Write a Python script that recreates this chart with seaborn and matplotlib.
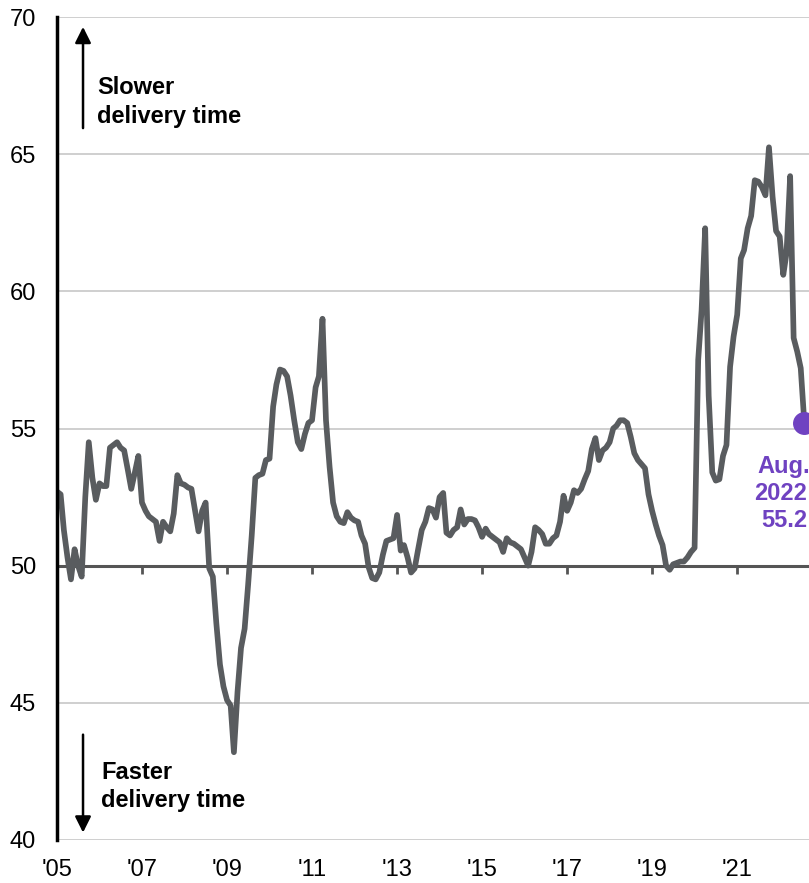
import matplotlib
matplotlib.use("Agg")
import matplotlib.pyplot as plt
import seaborn as sns
import pandas as pd

# ---- data (monthly, Jan 2005 - Aug 2022) ----
v2005 = [52.7, 52.6, 51.3, 50.3, 49.5, 50.6, 50.0, 49.6, 52.5, 54.5, 53.2, 52.4]
v2006 = [53.0, 52.9, 52.9, 54.3, 54.4, 54.5, 54.3, 54.2, 53.5, 52.8, 53.4, 54.0]
v2007 = [52.3, 52.0, 51.8, 51.7, 51.6, 50.9, 51.6, 51.4, 51.25, 51.9, 53.3, 53.0]
v2008 = [52.95, 52.85, 52.8, 52.0, 51.25, 52.0, 52.3, 49.9, 49.6, 47.9, 46.4, 45.6]
v2009 = [45.1, 44.9, 43.2, 45.4, 47.0, 47.7, 49.3, 51.1, 53.2, 53.3, 53.35, 53.85]
v2010 = [53.9, 55.8, 56.6, 57.15, 57.1, 56.9, 56.2, 55.3, 54.5, 54.25, 54.8, 55.2]
v2011 = [55.3, 56.5, 56.9, 59.0, 55.3, 53.6, 52.3, 51.8, 51.6, 51.55, 51.95, 51.75]
v2012 = [51.65, 51.6, 51.1, 50.8, 49.95, 49.55, 49.5, 49.75, 50.4, 50.9, 50.95, 51.0]
v2013 = [51.85, 50.55, 50.75, 50.3, 49.75, 49.9, 50.6, 51.3, 51.6, 52.1, 52.05, 51.75]
v2014 = [52.5, 52.65, 51.2, 51.1, 51.3, 51.4, 52.05, 51.5, 51.7, 51.7, 51.65, 51.4]
v2015 = [51.05, 51.35, 51.15, 51.05, 50.95, 50.85, 50.5, 51.0, 50.85, 50.8, 50.7, 50.6]
v2016 = [50.3, 50.0, 50.5, 51.4, 51.3, 51.15, 50.8, 50.8, 51.0, 51.1, 51.6, 52.55]
v2017 = [52.0, 52.3, 52.75, 52.65, 52.8, 53.15, 53.45, 54.25, 54.65, 53.85, 54.2, 54.3]
v2018 = [54.5, 55.0, 55.1, 55.3, 55.3, 55.2, 54.7, 54.1, 53.85, 53.7, 53.55, 52.6]
v2019 = [52.0, 51.5, 51.1, 50.75, 50.0, 49.85, 50.05, 50.1, 50.15, 50.15, 50.3, 50.5]
v2020 = [50.65, 57.5, 59.3, 62.3, 56.2, 53.4, 53.1, 53.15, 54.0, 54.4, 57.25, 58.35]
v2021 = [59.15, 61.2, 61.5, 62.3, 62.75, 64.05, 64.0, 63.8, 63.5, 65.25, 63.45, 62.2]
v2022 = [62.0, 60.6, 61.4, 64.2, 58.3, 57.8, 57.2, 55.2]

values = (v2005 + v2006 + v2007 + v2008 + v2009 + v2010 + v2011 + v2012 + v2013
          + v2014 + v2015 + v2016 + v2017 + v2018 + v2019 + v2020 + v2021 + v2022)
dates = pd.date_range("2005-01-01", periods=len(values), freq="MS")
df = pd.DataFrame({"date": dates, "value": values})

tick_years = [2005, 2007, 2009, 2011, 2013, 2015, 2017, 2019, 2021]
tick_labels = ["'05", "'07", "'09", "'11", "'13", "'15", "'17", "'19", "'21"]
y_ticks = [40, 45, 50, 55, 60, 65, 70]
last_label = "Aug.\n2022:\n55.2"

LINE = "#595c5f"
PURPLE = "#6f42c1"

sns.set_style("white")
plt.rcParams["font.family"] = ["Liberation Sans", "DejaVu Sans"]
plt.rcParams["text.color"] = "black"

fig = plt.figure(figsize=(8.09, 8.83), dpi=100)
ax = fig.add_axes([57 / 809, 43 / 883, 1 - 57 / 809, 823 / 883])

# grid & reference line
ax.set_yticks(y_ticks)
ax.yaxis.grid(True, color="#cccccc", lw=1.3, zorder=0)
ax.set_axisbelow(True)
ax.axhline(50, color="#555555", lw=2.2, zorder=1)
tick_dates = [pd.Timestamp(f"{y}-01-01") for y in tick_years]
ax.plot(tick_dates[1:], [50] * (len(tick_dates) - 1), ls="none", marker=3,
        ms=6, mew=2, color="#555555", zorder=1)

sns.lineplot(data=df, x="date", y="value", ax=ax, color=LINE, lw=4.1,
             zorder=3, solid_joinstyle="round", solid_capstyle="round")

# last point
ax.plot([df["date"].iloc[-1]], [df["value"].iloc[-1]], marker="o", ms=15.5,
        color=PURPLE, zorder=4, clip_on=False)
ax.text(0.967, 0.468, last_label, transform=ax.transAxes, ha="center", va="top",
        color=PURPLE, fontsize=17, fontweight="bold", linespacing=1.22)

ax.set_ylim(40, 70)
ax.set_xlim(pd.Timestamp("2005-01-01"), pd.Timestamp("2022-09-10"))
ax.set_xticks(tick_dates)
ax.set_xticklabels(tick_labels)
ax.set_xlabel("")
ax.set_ylabel("")
ax.tick_params(axis="both", length=0, labelsize=17, colors="black")
ax.tick_params(axis="y", pad=15)
ax.tick_params(axis="x", pad=13.5)

for s in ["top", "right", "bottom"]:
    ax.spines[s].set_visible(False)
ax.spines["left"].set_color("black")
ax.spines["left"].set_linewidth(2.5)
ax.spines["left"].set_zorder(5)

# direction arrows and notes
arrow = dict(arrowstyle="-|>", mutation_scale=24, lw=1.8, color="black",
             shrinkA=0, shrinkB=0)
ax.annotate("", xy=(0.0346, 0.988), xytext=(0.0346, 0.865),
            xycoords="axes fraction", textcoords="axes fraction", arrowprops=arrow)
ax.annotate("", xy=(0.0346, 0.009), xytext=(0.0346, 0.128),
            xycoords="axes fraction", textcoords="axes fraction", arrowprops=arrow)
ax.text(0.053, 0.928, "Slower\ndelivery time", transform=ax.transAxes,
        ha="left", va="top", fontsize=17, fontweight="bold", linespacing=1.3)
ax.text(0.0585, 0.096, "Faster\ndelivery time", transform=ax.transAxes,
        ha="left", va="top", fontsize=17, fontweight="bold", linespacing=1.3)

fig.savefig("out.png", dpi=100)
